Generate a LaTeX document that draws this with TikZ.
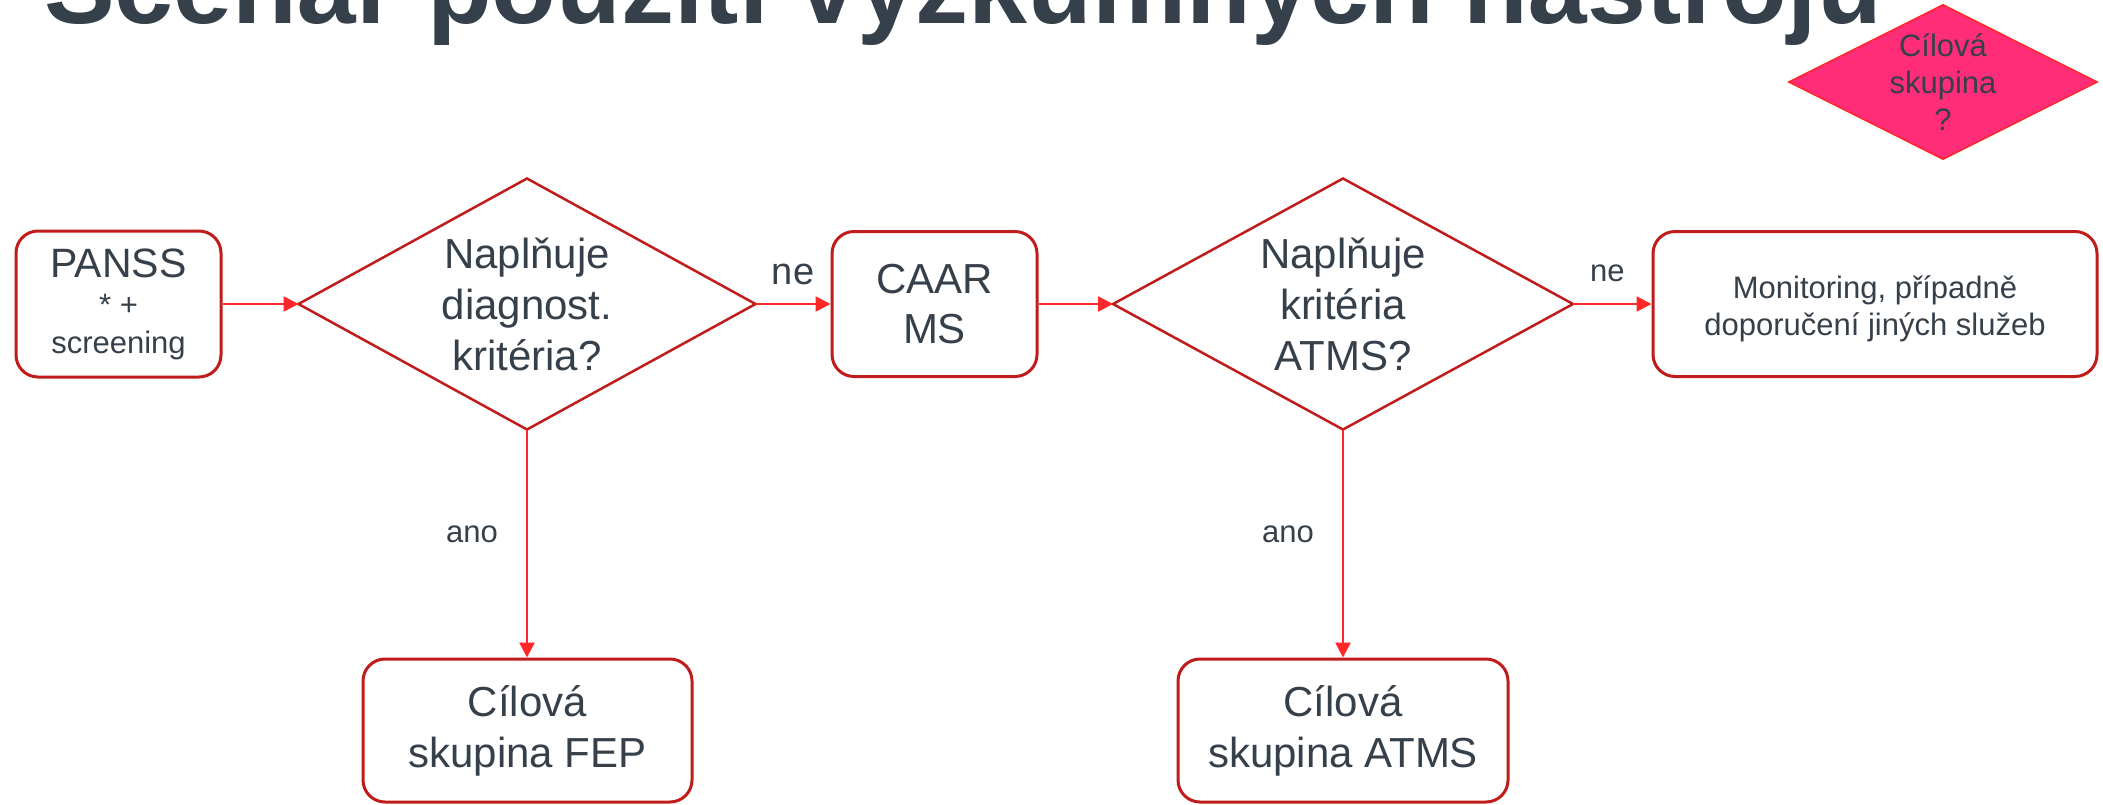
\documentclass[tikz,border=0pt]{standalone}
\usepackage{fontspec}
\setmainfont{Liberation Sans}
\usetikzlibrary{shapes.geometric,arrows.meta}
\definecolor{txt}{RGB}{54,64,74}
\definecolor{boxred}{RGB}{192,28,28}
\definecolor{arrred}{RGB}{255,40,40}
\definecolor{hotpink}{RGB}{255,45,120}
\newcommand{\fs}[2]{\fontsize{#1}{#2}\selectfont}
\tikzset{
  stepbox/.style={draw=boxred, line width=3pt, rounded corners=22pt, fill=white,
    inner sep=0pt, align=center, text=txt},
  decision/.style={diamond, draw=boxred, line width=2.5pt, fill=white,
    inner sep=0pt, outer sep=0pt},
  dtext/.style={inner sep=0pt, align=center, text=txt},
  conn/.style={draw=arrred, line width=2.5pt, -{Triangle[length=15pt,width=15pt]}},
  lbl/.style={text=txt, inner sep=0pt},
}
\begin{document}
\begin{tikzpicture}[x=1pt,y=-1pt]
\useasboundingbox (0,0) rectangle (2103,804);
\fill[white] (0,0) rectangle (2103,804);
% title (cut off at top)
\node[anchor=base west, inner sep=0pt, text=txt, font=\bfseries\fs{106}{120}] (title) at (44,23) {Scénář použití výzkumných nástrojů};
% pink decision
\node[diamond, draw=arrred, line width=1.5pt, fill=hotpink, inner sep=0pt,
  minimum width=309pt, minimum height=155pt] (pink) at (1943,82) {};
\node[dtext, font=\fs{31}{37}] (pinkt) at (pink.center) {Cílová\\skupina\\?};
% nodes
\node[stepbox, minimum width=205pt, minimum height=146pt, font=\fs{31}{38}] (panss) at (118.5,304)
  {{\fs{41}{48}PANSS}\\* +\\screening};
\node[decision, minimum width=457pt, minimum height=251pt] (d1) at (527,304) {};
\node[dtext, font=\fs{42}{51}] (d1t) at (d1.center) {Naplňuje\\diagnost.\\kritéria?};
\node[stepbox, minimum width=205pt, minimum height=145pt, font=\fs{42}{50}] (caar) at (934.5,304) {CAAR\\MS};
\node[decision, minimum width=460pt, minimum height=251pt] (d2) at (1343,304) {};
\node[dtext, font=\fs{42}{51}] (d2t) at (d2.center) {Naplňuje\\kritéria\\ATMS?};
\node[stepbox, minimum width=444pt, minimum height=145pt] (mon) at (1875,304) {};
\node[dtext, font=\fs{31}{37}] (mont) at ([yshift=-5pt]mon.center)
  {Monitoring, případně\\doporučení jiných služeb};
\node[stepbox, minimum width=329pt, minimum height=143pt, font=\fs{42}{51}] (fep) at (527.5,730.5)
  {Cílová\\skupina FEP};
\node[stepbox, minimum width=330pt, minimum height=143pt, font=\fs{42}{51}] (atms) at (1343,730.5)
  {Cílová\\skupina ATMS};
% connectors
\draw[conn] (panss.east) -- (d1.west);
\draw[conn] (d1.east) -- node[lbl, above=18pt, font=\fs{38}{44}] (ne1) {ne} (caar.west);
\draw[conn] (caar.east) -- (d2.west);
\draw[conn] (d2.east) -- node[lbl, above=21pt, xshift=-5pt, font=\fs{31}{37}] (ne2) {ne} (mon.west);
\draw[conn] (d1.south) -- node[lbl, pos=0.46, left=28pt, font=\fs{31}{37}] (ano1) {ano} (d1.south |- fep.north);
\draw[conn] (d2.south) -- node[lbl, pos=0.46, left=28pt, font=\fs{31}{37}] (ano2) {ano} (d2.south |- atms.north);
\end{tikzpicture}
\end{document}
